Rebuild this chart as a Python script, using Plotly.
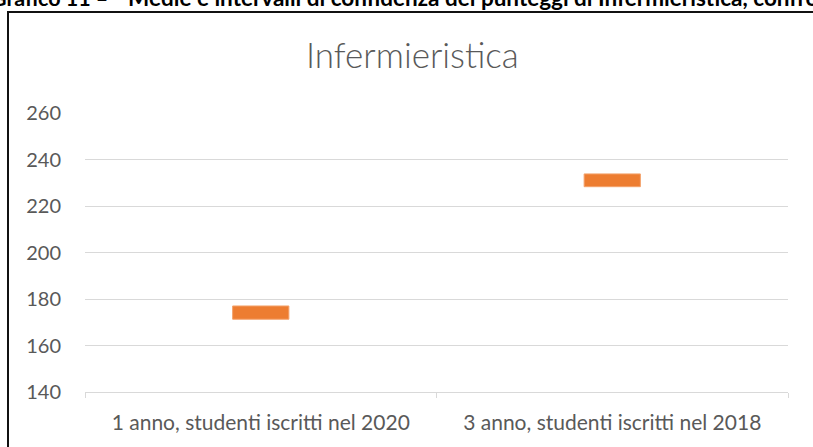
import plotly.graph_objects as go

categories = ["1 anno, studenti iscritti nel 2020", "3 anno, studenti iscritti nel 2018"]
ci_low = [171.3, 228.3]
ci_high = [177.0, 233.8]
y_ticks = [140, 160, 180, 200, 220, 240, 260]
chart_title = "Infermieristica"
caption_num = "Grafico 11 –"
caption_text = "Medie e intervalli di confidenza dei punteggi di Infermieristica, confronto"

W, H = 813, 447
L, R, T, B = 85, 25, 113, 55
pw, ph = W - L - R, H - T - B

def px(X):
    return (X - L) / pw

def py(Y):
    return (H - B - Y) / ph

fig = go.Figure()
fig.add_trace(go.Bar(
    x=categories,
    y=[h - l for h, l in zip(ci_high, ci_low)],
    base=ci_low,
    width=0.16,
    marker=dict(color="#ED7D31", line=dict(color="#F4A26B", width=1)),
    hoverinfo="skip",
))

fig.update_layout(
    width=W, height=H,
    margin=dict(l=L, r=R, t=T, b=B),
    paper_bgcolor="white", plot_bgcolor="white",
    showlegend=False,
    font=dict(family="Lato", color="#595959"),
    xaxis=dict(
        type="category",
        showline=True, linecolor="#D9D9D9", linewidth=1,
        ticks="outside", tickson="boundaries", ticklen=5, tickcolor="#D9D9D9",
        tickfont=dict(size=21, color="#595959", family="Lato"),
        ticklabelstandoff=12,
        showgrid=False,
        range=[-0.5, 1.5],
        automargin=False,
    ),
    yaxis=dict(
        range=[140, 260],
        tickvals=y_ticks,
        showgrid=True, gridcolor="#D9D9D9", gridwidth=1,
        zeroline=False, showline=False,
        tickfont=dict(size=20, color="#595959", family="Lato"),
        ticklabelstandoff=23,
        automargin=False,
    ),
    shapes=[
        dict(type="line", xref="paper", yref="paper", x0=px(8), x1=px(8), y0=py(12), y1=py(470),
             line=dict(color="#111111", width=2)),
        dict(type="line", xref="paper", yref="paper", x0=px(7), x1=px(820), y0=py(12), y1=py(12),
             line=dict(color="#111111", width=2)),
    ],
    annotations=[
        dict(text=chart_title, xref="paper", yref="paper", x=px(412), y=py(77),
             xanchor="center", yanchor="bottom", showarrow=False,
             font=dict(size=35, color="#595959", family="Lato", weight=300)),
        dict(text="<b>" + caption_num + "</b>", xref="paper", yref="paper", x=px(110), y=py(13),
             xanchor="right", yanchor="bottom", showarrow=False,
             font=dict(size=21.5, color="#000000", family="Lato")),
        dict(text="<b>" + caption_text + "</b>", xref="paper", yref="paper", x=px(126), y=py(13),
             xanchor="left", yanchor="bottom", showarrow=False,
             font=dict(size=22.5, color="#000000", family="Lato")),
    ],
)

fig.write_html(
    "out.html",
    config={"displayModeBar": False},
    post_script="document.body.style.margin='0';document.body.style.overflow='hidden';",
)
